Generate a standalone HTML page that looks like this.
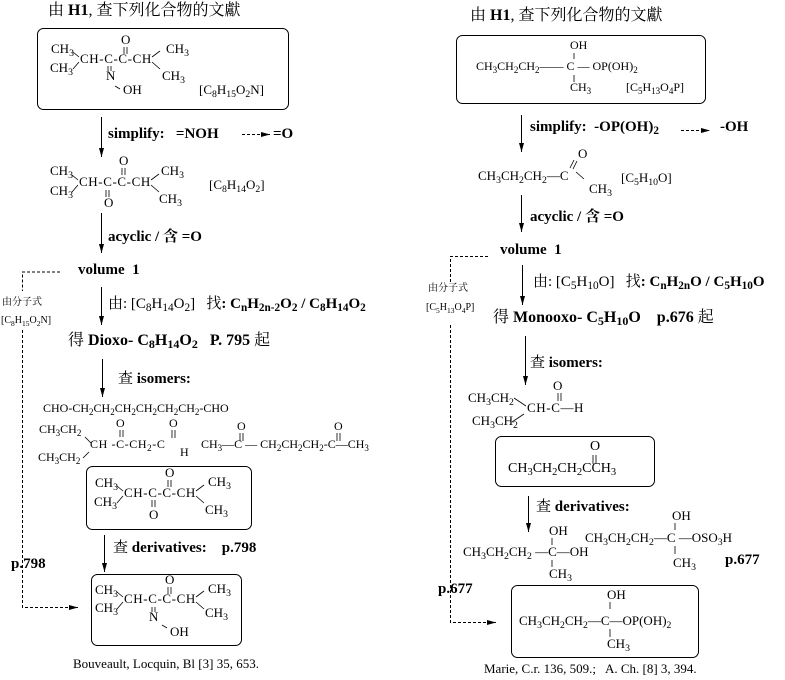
<!DOCTYPE html>
<html><head><meta charset="utf-8"><style>
body{margin:0;background:#fff}
#w{position:relative;width:785px;height:680px;overflow:hidden;background:#fff;font-family:"Liberation Serif","Noto Serif CJK SC","Noto Sans CJK SC",serif;color:#000}
.t{position:absolute;white-space:nowrap;line-height:1;font-size:13px}
.b{font-weight:bold;font-size:15px}
.h{font-size:16px}
.s{font-size:10px}
.ls{letter-spacing:0.6px}
sub{font-size:75%;vertical-align:-3px;line-height:0}
svg{position:absolute;left:0;top:0}
</style></head><body><div id="w">
<svg width="785" height="680" viewBox="0 0 785 680" fill="none" stroke="#000" stroke-width="1">
<defs>
<marker id="r" markerWidth="10" markerHeight="6" refX="9" refY="3" orient="auto" markerUnits="userSpaceOnUse"><path d="M0,0.5 L9,3 L0,5.5 Z" fill="#000" stroke="none"/></marker></defs>
<rect x="37.5" y="28.5" width="251" height="81" rx="6"/>
<rect x="86.5" y="466.5" width="165" height="63" rx="6"/>
<rect x="91.5" y="574.5" width="150" height="71" rx="6"/>
<rect x="456.5" y="35.5" width="249" height="68" rx="6"/>
<rect x="495.5" y="436.5" width="159" height="50" rx="6"/>
<rect x="511.5" y="585.5" width="187" height="72" rx="6"/>
<g marker-end="url(#r)">
<line x1="101.5" y1="117" x2="101.5" y2="157"/>
<line x1="101.5" y1="213" x2="101.5" y2="253"/>
<line x1="101.5" y1="287" x2="101.5" y2="325"/>
<line x1="102.5" y1="359" x2="102.5" y2="397"/>
<line x1="104.5" y1="535" x2="104.5" y2="572"/>
<line x1="521.5" y1="115" x2="521.5" y2="152"/>
<line x1="521.5" y1="195" x2="521.5" y2="232"/>
<line x1="522.5" y1="265" x2="522.5" y2="305"/>
<line x1="525.5" y1="336" x2="525.5" y2="385"/>
<line x1="528.5" y1="496" x2="528.5" y2="532"/>
</g>
<g stroke-dasharray="3,2">
<polyline points="60,272 22.5,272 22.5,291"/>
<polyline points="22.5,330 22.5,607.5 78,607.5" marker-end="url(#r)"/>
<line x1="242" y1="134.5" x2="270" y2="134.5" marker-end="url(#r)"/>
<polyline points="488,256.5 450.5,256.5 450.5,282"/>
<polyline points="450.5,325 450.5,622.5 496,622.5" marker-end="url(#r)"/>
<line x1="681" y1="130.5" x2="710" y2="130.5" marker-end="url(#r)"/>
</g>
<g stroke-width="0.8">
<g id="br"><path d="M73,52 L79,57 M73,69 L79,62 M152,57 L160,51 M152,62 L160,69"/></g>
<use href="#br" transform="translate(-1,123)"/>
<use href="#br" transform="translate(44,434)"/>
<use href="#br" transform="translate(44,540)"/>
<path d="M124,47 v7 M127,47 v7"/>
<path d="M108,66 v5 M111,66 v5"/>
<path d="M115,86 l5,3"/>
<path d="M122,168 v7 M125,168 v7 M106,190 v7 M109,190 v7"/>
<path d="M168,480 v7 M171,480 v7 M152,500 v7 M155,500 v7"/>
<path d="M168,587 v7 M171,587 v7 M152,607 v5 M155,607 v5 M162,625 l5,3"/>
<path d="M120,430 v7 M123,430 v7 M172,430 v8 M175,430 v8 M85,437 L91,443 M83,458 L89,452"/>
<path d="M240,433 v8 M243,433 v8 M337,433 v8 M340,433 v8"/>
<path d="M574,53 v6 M574,75 v7 M574,160 l-4,8 M577,161 l-4,8 M576,172 l8,7"/>
<path d="M558,393 v8 M561,393 v8 M593,455 v9 M596,455 v9 M514,398 L526,406 M512,422 L524,414"/>
<path d="M552,538 v7 M552,560 v7 M675,523 v7 M675,546 v8 M610,602 v7 M610,629 v8"/>
</g>
</svg>
<div class="t h" style="left:48px;top:3px">由 <b>H1</b>, 查下列化合物的文獻</div>
<div class="t" style="left:51px;top:42px">CH<sub>3</sub></div>
<div class="t" style="left:50px;top:61px">CH<sub>3</sub></div>
<div class="t ls" style="left:80px;top:52px">CH-C-C-CH</div>
<div class="t" style="left:121px;top:33px">O</div>
<div class="t" style="left:166px;top:42px">CH<sub>3</sub></div>
<div class="t" style="left:162px;top:69px">CH<sub>3</sub></div>
<div class="t" style="left:106px;top:69px">N</div>
<div class="t" style="left:123px;top:83px">OH</div>
<div class="t" style="left:199px;top:83px">[C<sub>8</sub>H<sub>15</sub>O<sub>2</sub>N]</div>
<div class="t b" style="left:108px;top:127px">simplify: &nbsp; =NOH</div>
<div class="t b" style="left:273px;top:127px">=O</div>
<div class="t" style="left:50px;top:164px">CH<sub>3</sub></div>
<div class="t" style="left:50px;top:184px">CH<sub>3</sub></div>
<div class="t ls" style="left:79px;top:175px">CH-C-C-CH</div>
<div class="t" style="left:119px;top:154px">O</div>
<div class="t" style="left:104px;top:196px">O</div>
<div class="t" style="left:161px;top:164px">CH<sub>3</sub></div>
<div class="t" style="left:159px;top:192px">CH<sub>3</sub></div>
<div class="t" style="left:209px;top:178px">[C<sub>8</sub>H<sub>14</sub>O<sub>2</sub>]</div>
<div class="t b" style="left:108px;top:230px">acyclic / 含 =O</div>
<div class="t b" style="left:78px;top:263px">volume &nbsp;1</div>
<div class="t s" style="left:2px;top:298px">由分子式</div>
<div class="t s" style="left:1px;top:316px">[C<sub>8</sub>H<sub>15</sub>O<sub>2</sub>N]</div>
<div class="t b" style="left:108px;top:297px"><span style="font-weight:normal">由: [C<sub>8</sub>H<sub>14</sub>O<sub>2</sub>]</span> &nbsp; <span style="font-weight:normal">找</span>: C<sub>n</sub>H<sub>2n-2</sub>O<sub>2</sub> / C<sub>8</sub>H<sub>14</sub>O<sub>2</sub></div>
<div class="t b" style="left:68px;top:333px;font-size:16px"><span style="font-weight:normal">得</span> Dioxo- C<sub>8</sub>H<sub>14</sub>O<sub>2</sub> &nbsp; P. 795 <span style="font-weight:normal">起</span></div>
<div class="t b" style="left:118px;top:372px"><span style="font-weight:normal">查</span> isomers:</div>
<div class="t" style="left:43px;top:402px;font-size:12px">CHO-CH<sub>2</sub>CH<sub>2</sub>CH<sub>2</sub>CH<sub>2</sub>CH<sub>2</sub>CH<sub>2</sub>-CHO</div>
<div class="t" style="left:39px;top:423px;font-size:12px">CH<sub>3</sub>CH<sub>2</sub></div>
<div class="t" style="left:38px;top:451px;font-size:12px">CH<sub>3</sub>CH<sub>2</sub></div>
<div class="t ls" style="left:90px;top:438px;font-size:12px">CH -C-CH<sub>2</sub>-C</div>
<div class="t" style="left:116px;top:417px;font-size:12px">O</div>
<div class="t" style="left:169px;top:417px;font-size:12px">O</div>
<div class="t" style="left:180px;top:446px;font-size:12px">H</div>
<div class="t" style="left:201px;top:438px;font-size:12px">CH<sub>3</sub>—C — CH<sub>2</sub>CH<sub>2</sub>CH<sub>2</sub>-C—CH<sub>3</sub></div>
<div class="t" style="left:237px;top:420px;font-size:12px">O</div>
<div class="t" style="left:334px;top:420px;font-size:12px">O</div>
<div class="t" style="left:95px;top:476px">CH<sub>3</sub></div>
<div class="t" style="left:94px;top:495px">CH<sub>3</sub></div>
<div class="t ls" style="left:124px;top:486px">CH-C-C-CH</div>
<div class="t" style="left:165px;top:466px">O</div>
<div class="t" style="left:149px;top:508px">O</div>
<div class="t" style="left:208px;top:475px">CH<sub>3</sub></div>
<div class="t" style="left:205px;top:503px">CH<sub>3</sub></div>
<div class="t b" style="left:113px;top:541px"><span style="font-weight:normal">查</span> derivatives: &nbsp;&nbsp; p.798</div>
<div class="t b" style="left:11px;top:557px">p.798</div>
<div class="t" style="left:95px;top:583px">CH<sub>3</sub></div>
<div class="t" style="left:95px;top:601px">CH<sub>3</sub></div>
<div class="t ls" style="left:124px;top:592px">CH-C-C-CH</div>
<div class="t" style="left:165px;top:573px">O</div>
<div class="t" style="left:149px;top:610px">N</div>
<div class="t" style="left:170px;top:625px">OH</div>
<div class="t" style="left:208px;top:582px">CH<sub>3</sub></div>
<div class="t" style="left:205px;top:606px">CH<sub>3</sub></div>
<div class="t" style="left:73px;top:657px;font-size:13px">Bouveault, Locquin, Bl [3] 35, 653.</div>
<div class="t h" style="left:470px;top:8px">由 <b>H1</b>, 查下列化合物的文獻</div>
<div class="t" style="left:570px;top:39px;font-size:12px">OH</div>
<div class="t" style="left:476px;top:60px;font-size:12px">CH<sub>3</sub>CH<sub>2</sub>CH<sub>2</sub>—— C — OP(OH)<sub>2</sub></div>
<div class="t" style="left:570px;top:81px;font-size:12px">CH<sub>3</sub></div>
<div class="t" style="left:626px;top:81px;font-size:12px">[C<sub>5</sub>H<sub>13</sub>O<sub>4</sub>P]</div>
<div class="t b" style="left:530px;top:120px">simplify: &nbsp;-OP(OH)<sub>2</sub></div>
<div class="t b" style="left:720px;top:120px">-OH</div>
<div class="t" style="left:478px;top:169px">CH<sub>3</sub>CH<sub>2</sub>CH<sub>2</sub>—C</div>
<div class="t" style="left:578px;top:147px">O</div>
<div class="t" style="left:589px;top:182px">CH<sub>3</sub></div>
<div class="t" style="left:621px;top:171px">[C<sub>5</sub>H<sub>10</sub>O]</div>
<div class="t b" style="left:530px;top:210px">acyclic / 含 =O</div>
<div class="t b" style="left:500px;top:243px">volume &nbsp;1</div>
<div class="t s" style="left:428px;top:284px">由分子式</div>
<div class="t s" style="left:426px;top:303px">[C<sub>5</sub>H<sub>13</sub>O<sub>4</sub>P]</div>
<div class="t b" style="left:533px;top:275px"><span style="font-weight:normal">由: [C<sub>5</sub>H<sub>10</sub>O]</span> &nbsp; <span style="font-weight:normal">找</span>: C<sub>n</sub>H<sub>2n</sub>O / C<sub>5</sub>H<sub>10</sub>O</div>
<div class="t b" style="left:493px;top:310px;font-size:16px"><span style="font-weight:normal">得</span> Monooxo- C<sub>5</sub>H<sub>10</sub>O &nbsp;&nbsp; p.676 <span style="font-weight:normal">起</span></div>
<div class="t b" style="left:530px;top:356px"><span style="font-weight:normal">查</span> isomers:</div>
<div class="t" style="left:468px;top:391px">CH<sub>3</sub>CH<sub>2</sub></div>
<div class="t" style="left:472px;top:414px">CH<sub>3</sub>CH<sub>2</sub></div>
<div class="t ls" style="left:527px;top:401px">CH-C—H</div>
<div class="t" style="left:553px;top:379px">O</div>
<div class="t" style="left:508px;top:462px;font-size:14px">CH<sub>3</sub>CH<sub>2</sub>CH<sub>2</sub>CCH<sub>3</sub></div>
<div class="t" style="left:590px;top:440px;font-size:14px">O</div>
<div class="t b" style="left:536px;top:500px"><span style="font-weight:normal">查</span> derivatives:</div>
<div class="t" style="left:549px;top:524px">OH</div>
<div class="t" style="left:463px;top:545px">CH<sub>3</sub>CH<sub>2</sub>CH<sub>2</sub> —C—OH</div>
<div class="t" style="left:549px;top:567px">CH<sub>3</sub></div>
<div class="t" style="left:672px;top:509px">OH</div>
<div class="t" style="left:585px;top:531px">CH<sub>3</sub>CH<sub>2</sub>CH<sub>2</sub>—C —OSO<sub>3</sub>H</div>
<div class="t" style="left:673px;top:556px">CH<sub>3</sub></div>
<div class="t b" style="left:725px;top:553px">p.677</div>
<div class="t b" style="left:438px;top:582px">p.677</div>
<div class="t" style="left:607px;top:588px">OH</div>
<div class="t" style="left:519px;top:614px">CH<sub>3</sub>CH<sub>2</sub>CH<sub>2</sub>—C—OP(OH)<sub>2</sub></div>
<div class="t" style="left:607px;top:637px">CH<sub>3</sub></div>
<div class="t" style="left:484px;top:662px;font-size:13px">Marie, C.r. 136, 509.; &nbsp; A. Ch. [8] 3, 394.</div>
</div></body></html>
